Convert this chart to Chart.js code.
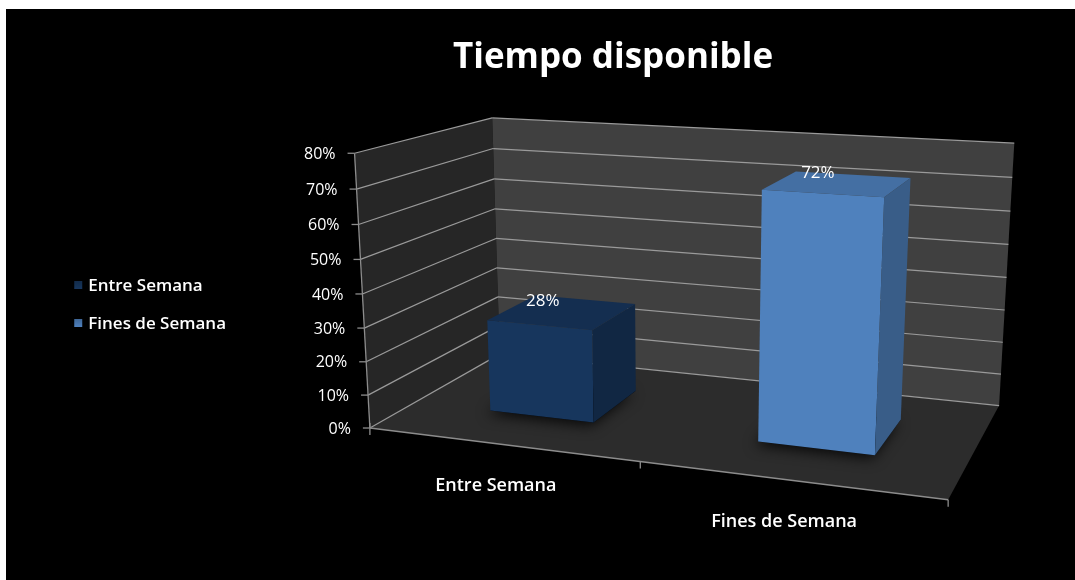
<!DOCTYPE html>
<html>
<head>
<meta charset="utf-8">
<title>Tiempo disponible</title>
<script src="https://cdn.jsdelivr.net/npm/chart.js@4.4.1/dist/chart.umd.min.js"></script>
<style>
  html, body { margin: 0; padding: 0; background: #fff; }
  #wrap { position: absolute; left: 6px; top: 9px; width: 1069px; height: 571px; background: #000; }
</style>
</head>
<body>
<div id="wrap"><canvas id="myChart" width="1069" height="571"></canvas></div>
<script>
const chartTitle = "Tiempo disponible";
const categories = ["Entre Semana", "Fines de Semana"];
const values = [0.28, 0.72];
const barColors = ["#17365D", "#4F81BD"];
const yMax = 0.8;
const yStep = 0.1;

const FONT = "'Open Sans', 'Noto Sans', sans-serif";

/* box corners in (u, v, w) -> canvas px, used to fit the perspective camera */
const anchors = [
    [0, 0, 0, 364, 419],
    [1, 0, 0, 942, 491],
    [1, 0, 1, 993, 396],
    [0, 1, 0, 349, 144],
    [0, 1, 1, 486, 109],
    [1, 1, 1, 1008, 134],
    [0, 0.25, 1, 492, 288],
    [0, 0.5, 0, 356, 285],
    [1, 0.5, 1, 1001, 269]
];
const barDepth = [0.32, 0.72]; // front / back of the bars inside the box

function pct(v){
    return Math.round(v * 100) + "%";
}

function solveLinear(A, b){
    const n = b.length;
    const M = A.map((row, i) => row.concat([b[i]]));
    for (let c = 0; c < n; c++){
        let p = c;
        for (let r = c + 1; r < n; r++) if (Math.abs(M[r][c]) > Math.abs(M[p][c])) p = r;
        [M[c], M[p]] = [M[p], M[c]];
        for (let r = c + 1; r < n; r++){
            const f = M[r][c] / M[c][c];
            for (let k = c; k <= n; k++) M[r][k] -= f * M[c][k];
        }
    }
    const x = new Array(n).fill(0);
    for (let r = n - 1; r >= 0; r--){
        let s = M[r][n];
        for (let k = r + 1; k < n; k++) s -= M[r][k] * x[k];
        x[r] = s / M[r][r];
    }
    return x;
}

// least squares 3x4 camera (last entry fixed to 1)
function buildCamera(){
    const rows = [], rhs = [];
    anchors.forEach(([X, Y, Z, px, py]) => {
        const x = px / 1000, y = py / 1000;
        rows.push([X, Y, Z, 1, 0, 0, 0, 0, -x * X, -x * Y, -x * Z]); rhs.push(x);
        rows.push([0, 0, 0, 0, X, Y, Z, 1, -y * X, -y * Y, -y * Z]); rhs.push(y);
    });
    const N = [], b = [];
    for (let a = 0; a < 11; a++){
        N.push(new Array(11).fill(0));
        b.push(0);
        for (let i = 0; i < rows.length; i++){
            b[a] += rows[i][a] * rhs[i];
            for (let c = 0; c < 11; c++) N[a][c] += rows[i][a] * rows[i][c];
        }
    }
    return solveLinear(N, b);
}

const cam = buildCamera();

function project(u, v, w){
    const sx = cam[0] * u + cam[1] * v + cam[2] * w + cam[3];
    const sy = cam[4] * u + cam[5] * v + cam[6] * w + cam[7];
    const sz = cam[8] * u + cam[9] * v + cam[10] * w + 1;
    return [1000 * sx / sz, 1000 * sy / sz];
}

function poly(ctx, pts, fill){
    ctx.beginPath();
    pts.forEach((p, i) => i ? ctx.lineTo(p[0], p[1]) : ctx.moveTo(p[0], p[1]));
    ctx.closePath();
    ctx.fillStyle = fill;
    ctx.fill();
}

function line(ctx, a, b, color, lw){
    ctx.beginPath();
    ctx.moveTo(a[0], a[1]);
    ctx.lineTo(b[0], b[1]);
    ctx.strokeStyle = color;
    ctx.lineWidth = lw;
    ctx.stroke();
}

function shade(hex, f){
    const n = parseInt(hex.slice(1), 16);
    const r = Math.round(((n >> 16) & 255) * f), g = Math.round(((n >> 8) & 255) * f), b = Math.round((n & 255) * f);
    return "rgb(" + r + "," + g + "," + b + ")";
}

/* draws walls, floor, bars and all texts from the chart scales */
const box3d = {
    id: "box3d",
    afterDraw(chart){
        const ctx = chart.ctx;
        const xs = chart.scales.x, ys = chart.scales.y;
        const meta = chart.getDatasetMeta(0);
        const toU = px => (px - xs.left) / xs.width;
        const toV = val => (ys.bottom - ys.getPixelForValue(val)) / ys.height;

        let ticks = (ys.ticks || []).map(t => t.value);
        if (!ticks.length){
            for (let t = 0; t <= yMax + 1e-9; t += yStep) ticks.push(+t.toFixed(2));
        }

        ctx.save();
        // walls + floor
        poly(ctx, [project(0,0,0), project(0,0,1), project(0,1,1), project(0,1,0)], "#262626");
        poly(ctx, [project(0,0,1), project(1,0,1), project(1,1,1), project(0,1,1)], "#404040");
        poly(ctx, [project(0,0,0), project(1,0,0), project(1,0,1), project(0,0,1)], "#2c2c2c");

        // gridlines on side and back walls
        ticks.forEach(t => {
            const v = toV(t);
            line(ctx, project(0, v, 0), project(0, v, 1), "#9a9a9a", 1.2);
            line(ctx, project(0, v, 1), project(1, v, 1), "#9a9a9a", 1.2);
        });

        // value axis
        line(ctx, project(0,0,0), project(0,1,0), "#8c8c8c", 1.3);
        ctx.fillStyle = "#ffffff";
        ctx.font = "16px " + FONT;
        ctx.textAlign = "right";
        ctx.textBaseline = "middle";
        ticks.forEach(t => {
            const p = project(0, toV(t), 0);
            line(ctx, [p[0] - 7, p[1]], p, "#8c8c8c", 1.3);
            ctx.fillText(pct(t), p[0] - 19, p[1] + 1);
        });

        // category axis along the front floor edge
        line(ctx, project(0,0,0), project(1,0,0), "#8c8c8c", 1.3);
        for (let i = 0; i <= categories.length; i++){
            const p = project(i / categories.length, 0, 0);
            line(ctx, [p[0], p[1] - (i === 0 ? 5 : 0)], [p[0], p[1] + 7], "#8c8c8c", 1.3);
        }

        // bars
        meta.data.forEach((bar, i) => {
            const uc = toU(bar.x), hw = bar.width / 2 / xs.width;
            const u0 = uc - hw, u1 = uc + hw;
            const v = toV(values[i]);
            const [wf, wb] = barDepth;
            const col = barColors[i];

            ctx.save();
            ctx.shadowColor = "rgba(0,0,0,0.85)";
            ctx.shadowBlur = 14;
            ctx.shadowOffsetX = -3;
            ctx.shadowOffsetY = 3;
            poly(ctx, [project(u0,0,wf), project(u1,0,wf), project(u1,0,wb), project(u0,0,wb)], "#000");
            ctx.restore();

            poly(ctx, [project(u0,0,wf), project(u1,0,wf), project(u1,v,wf), project(u0,v,wf)], col);
            poly(ctx, [project(u0,v,wf), project(u1,v,wf), project(u1,v,wb), project(u0,v,wb)], shade(col, 0.86));
            poly(ctx, [project(u1,0,wf), project(u1,0,wb), project(u1,v,wb), project(u1,v,wf)], shade(col, 0.72));

            // value label
            const top = project(uc, v, (wf + wb) / 2);
            ctx.fillStyle = "#ffffff";
            ctx.font = "17px " + FONT;
            ctx.textAlign = "center";
            ctx.textBaseline = "middle";
            ctx.fillText(pct(values[i]), top[0] - 20, top[1] - 11);

            // category label
            const base = project(uc, 0, 0);
            ctx.font = "600 18px " + FONT;
            ctx.fillText(categories[i], base[0] - 5, base[1] + 42);
        });

        // title
        ctx.fillStyle = "#ffffff";
        ctx.font = "bold 35px " + FONT;
        ctx.textAlign = "center";
        ctx.textBaseline = "middle";
        ctx.fillText(chartTitle, 607, 49);

        // legend, kept clear of the value labels
        ctx.font = "600 17px " + FONT;
        ctx.textAlign = "left";
        const longest = Math.max(...categories.map(c => ctx.measureText(c).width));
        const textX = 220 - longest;
        categories.forEach((c, i) => {
            const y = 276 + i * 38;
            const grd = ctx.createLinearGradient(0, y - 4, 0, y + 4);
            grd.addColorStop(0, shade(barColors[i], 0.8));
            grd.addColorStop(1, barColors[i]);
            ctx.fillStyle = grd;
            ctx.fillRect(textX - 14, y - 4, 8, 8);
            ctx.fillStyle = "#ffffff";
            ctx.fillText(c, textX, y + 1);
        });
        ctx.restore();
    }
};

const ctx = document.getElementById("myChart").getContext("2d");
const myChart = new Chart(ctx, {
    type: "bar",
    data: {
        labels: categories,
        datasets: [{
            label: chartTitle,
            data: values,
            backgroundColor: "rgba(0,0,0,0)",
            categoryPercentage: 1,
            barPercentage: 0.4
        }]
    },
    options: {
        responsive: false,
        animation: false,
        scales: {
            x: { display: false },
            y: { display: false, min: 0, max: yMax, ticks: { stepSize: yStep } }
        },
        plugins: {
            legend: { display: false },
            tooltip: { enabled: false },
            title: { display: false }
        }
    },
    plugins: [box3d]
});
</script>
</body>
</html>
